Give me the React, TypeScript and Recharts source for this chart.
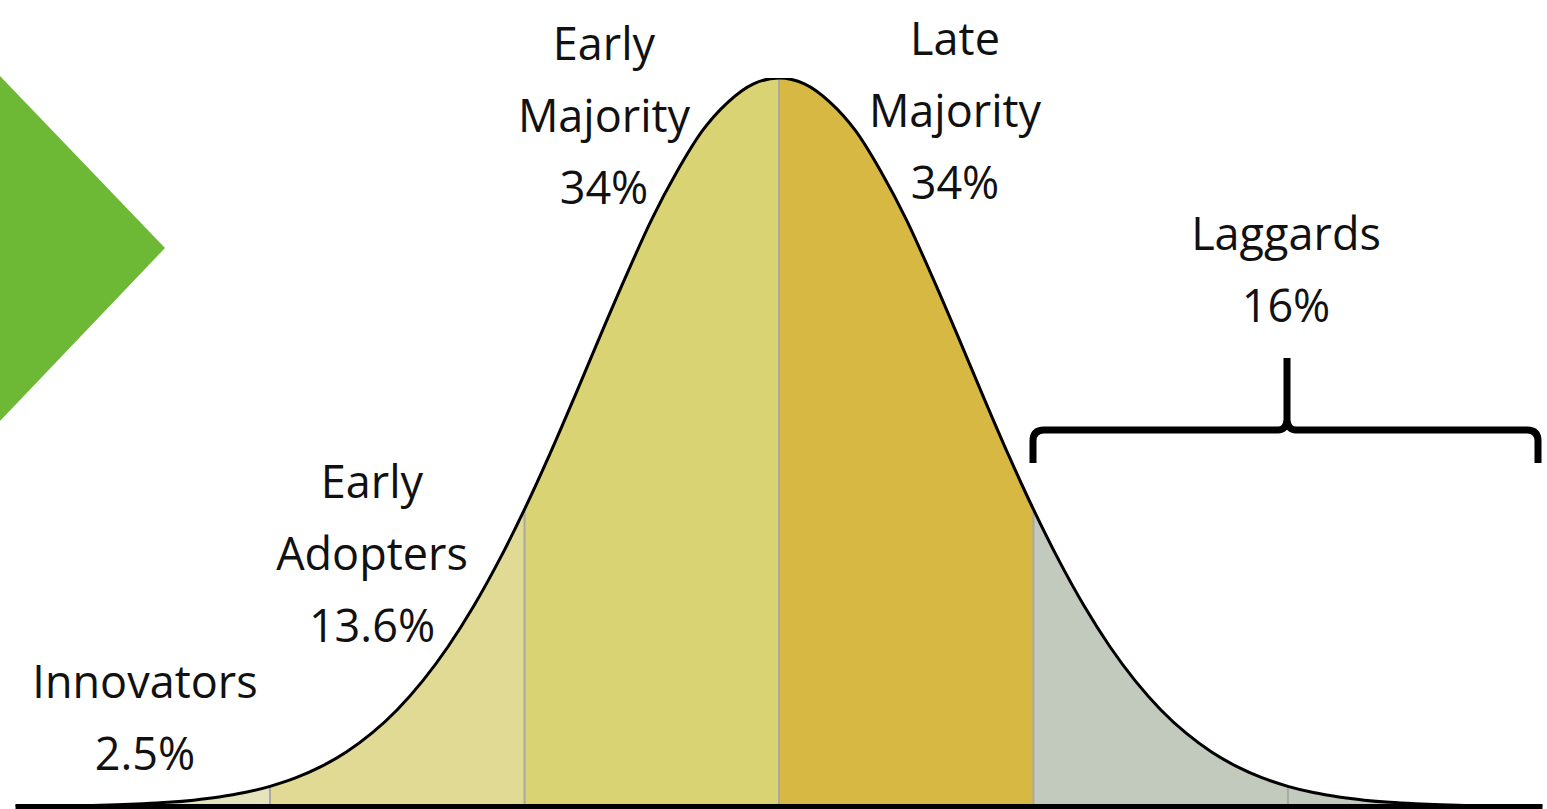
import React from "react";
import { ComposedChart, Area, Line, XAxis, YAxis, ReferenceLine } from "recharts";

// position along the curve, in standard-deviation steps of the segment boundaries
const positions = [
  -3.0, -2.9, -2.8, -2.7, -2.6, -2.5, -2.4, -2.3, -2.2, -2.1,
  -2.0, -1.9, -1.8, -1.7, -1.6, -1.5, -1.4, -1.3, -1.2, -1.1,
  -1.0, -0.9, -0.8, -0.7, -0.6, -0.5, -0.4, -0.3, -0.2, -0.1,
  0.0, 0.1, 0.2, 0.3, 0.4, 0.5, 0.6, 0.7, 0.8, 0.9,
  1.0, 1.1, 1.2, 1.3, 1.4, 1.5, 1.6, 1.7, 1.8, 1.9,
  2.0, 2.1, 2.2, 2.3, 2.4, 2.5, 2.6, 2.7, 2.8, 2.9, 3.0,
];

// curve height (percent of peak)
const heights = [
  0.03, 0.05, 0.09, 0.14, 0.23, 0.37, 0.57, 0.87, 1.3, 1.91,
  2.77, 3.92, 5.47, 7.48, 10.06, 13.29, 17.24, 21.96, 27.48, 33.78,
  40.78, 48.4, 56.5, 64.8, 72.9, 80.6, 87.2, 92.8, 96.7, 99.2,
  100, 99.2, 96.7, 92.8, 87.2, 80.6, 72.9, 64.8, 56.5, 48.4,
  40.78, 33.78, 27.48, 21.96, 17.24, 13.29, 10.06, 7.48, 5.47, 3.92,
  2.77, 1.91, 1.3, 0.87, 0.57, 0.37, 0.23, 0.14, 0.09, 0.05, 0.03,
];

// segment boundaries
const boundaries = [-2, -1, 0, 1, 2];

const segmentNames = ["Innovators", "Early Adopters", "Early Majority", "Late Majority", "Laggards"];
const segmentShares = ["2.5%", "13.6%", "34%", "34%", "16%"];
const segmentRanges: [number, number][] = [
  [-3.0, -2],
  [-2, -1],
  [-1, 0],
  [0, 1],
  [1, 3.0],
];
const segmentColors = ["#e6e4bd", "#e0da94", "#dad374", "#d6b843", "#c1cabd"];

const data = positions.map((u, i) => {
  const row: Record<string, number | null> = { u, curve: heights[i] };
  segmentRanges.forEach(([a, b], k) => {
    row["s" + k] = u >= a - 1e-9 && u <= b + 1e-9 ? heights[i] : null;
  });
  return row;
});

const heightAt = (u: number) => {
  const i = positions.findIndex((p) => Math.abs(p - u) < 1e-9);
  return heights[i];
};

const FONT = "'Open Sans', 'Noto Sans', sans-serif";

type Lbl = { lines: string[]; x: number; y: number };
const labels: Lbl[] = [
  { lines: ["Early", "Majority", segmentShares[2]], x: 604, y: 60 },
  { lines: ["Late", "Majority", segmentShares[3]], x: 955, y: 55 },
  { lines: [segmentNames[4], segmentShares[4]], x: 1286, y: 250 },
  { lines: ["Early", "Adopters", segmentShares[1]], x: 372, y: 498 },
  { lines: [segmentNames[0], segmentShares[0]], x: 145, y: 698 },
];

export default function App() {
  return (
    <div style={{ position: "absolute", left: 0, top: 0, width: 1547, height: 809, background: "#fff", overflow: "hidden" }}>
      <ComposedChart
        width={1547}
        height={809}
        data={data}
        margin={{ top: 78, right: 0, bottom: 2.5, left: 0 }}
      >
        <XAxis type="number" dataKey="u" domain={[-3.061, 3.018]} hide allowDataOverflow />
        <YAxis type="number" domain={[0, 100]} hide allowDataOverflow />
        {segmentRanges.map((_, k) => (
          <Area
            key={k}
            dataKey={"s" + k}
            type="monotone"
            stroke="none"
            fill={segmentColors[k]}
            fillOpacity={1}
            isAnimationActive={false}
            dot={false}
            activeDot={false}
          />
        ))}
        {boundaries.map((b) => (
          <ReferenceLine
            key={b}
            segment={[
              { x: b, y: 0 },
              { x: b, y: heightAt(b) },
            ]}
            stroke="#a9a9a4"
            strokeWidth={2}
          />
        ))}
        <Line
          dataKey="curve"
          type="monotone"
          stroke="#000"
          strokeWidth={3}
          dot={false}
          activeDot={false}
          isAnimationActive={false}
        />
        <ReferenceLine
          segment={[
            { x: -3.0, y: 0 },
            { x: 3.0, y: 0 },
          ]}
          stroke="#000"
          strokeWidth={5}
        />
      </ComposedChart>
      <svg
        width={1547}
        height={809}
        style={{ position: "absolute", left: 0, top: 0, pointerEvents: "none" }}
      >
        <polygon points="0,76 165,248 0,421" fill="#6db935" />
        <path
          d="M1033,463 L1033,441 Q1033,430 1044,430 L1278,430 Q1286,430 1287,420 L1287,358 L1287,420 Q1288,430 1296,430 L1527,430 Q1538,430 1538,441 L1538,463"
          fill="none"
          stroke="#000"
          strokeWidth={7}
        />
        {labels.map((l, i) =>
          l.lines.map((t, j) => (
            <text
              key={i + "-" + j}
              x={l.x}
              y={l.y + j * 72}
              textAnchor="middle"
              fontFamily={FONT}
              fontSize={45}
              fill="#111"
            >
              {t}
            </text>
          ))
        )}
      </svg>
    </div>
  );
}
